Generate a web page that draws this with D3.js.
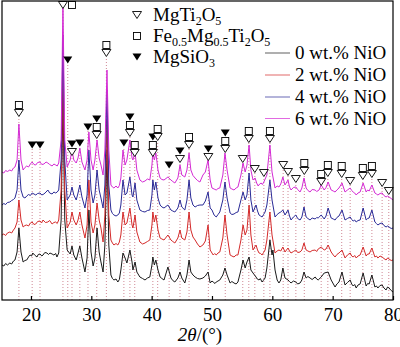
<!DOCTYPE html>
<html>
<head>
<meta charset="utf-8">
<script src="https://cdn.jsdelivr.net/npm/d3@7/dist/d3.min.js"></script>
<style>
body { margin: 0; background: #fff; }
svg text { font-family: "Liberation Serif", "Times New Roman", serif; fill: #000; }
</style>
</head>
<body>
<div id="chart"></div>
<script>

// XRD patterns, [2theta, intensity] (a.u., before stacking offset)
var nio0 = [[15.2,350],[15.5,340],[15.8,365],[16.1,350],[16.5,370],[16.8,360],[17.1,390],[17.35,400],[17.7,480],[18.0,720],[18.35,480],[18.7,380],[19.0,395],[19.3,400],[19.6,430],[19.85,450],[20.1,440],[20.3,470],[20.6,450],[21.0,430],[21.2,455],[21.5,460],[21.8,440],[22.0,450],[22.3,475],[22.65,470],[22.9,455],[23.15,470],[23.5,460],[23.8,450],[24.1,465],[24.3,430],[24.6,470],[25.0,800],[25.3,2000],[25.6,800],[26.0,500],[26.5,460],[26.8,540],[27.1,450],[27.5,400],[27.8,470],[28.1,540],[28.45,420],[28.95,280],[29.3,420],[29.6,900],[29.95,480],[30.3,340],[30.6,420],[30.95,720],[31.3,480],[31.6,380],[31.95,280],[32.25,550],[32.6,1500],[32.9,550],[33.25,250],[33.5,215],[33.75,200],[34.1,210],[34.4,180],[34.65,205],[34.9,300],[35.25,470],[35.6,420],[35.9,370],[36.4,500],[36.75,380],[36.9,300],[37.25,380],[37.55,280],[38.05,230],[38.5,215],[38.9,200],[39.3,220],[39.7,230],[40.05,350],[40.2,430],[40.45,350],[40.7,400],[41.05,300],[41.4,230],[41.7,215],[42.05,200],[42.7,330],[43.2,220],[43.5,195],[43.85,180],[44.35,220],[44.7,280],[45.0,220],[45.5,170],[45.85,250],[46.2,400],[46.5,280],[46.85,250],[47.2,230],[47.6,215],[48.0,210],[48.5,220],[48.9,240],[49.35,280],[49.7,170],[50.0,190],[50.2,180],[50.5,165],[50.7,180],[51.0,190],[51.3,200],[51.8,250],[52.15,320],[52.5,250],[53.0,170],[53.3,185],[53.65,170],[54.0,160],[54.3,180],[54.8,300],[55.15,400],[55.5,320],[55.8,380],[56.15,430],[56.45,300],[56.8,270],[57.3,230],[57.5,210],[57.8,200],[58.0,215],[58.3,180],[58.5,195],[58.8,220],[59.1,320],[59.6,600],[59.95,450],[60.1,500],[60.45,300],[60.8,200],[61.1,170],[61.4,200],[61.75,320],[62.1,220],[62.6,200],[62.85,185],[63.1,170],[63.5,190],[63.9,180],[64.2,160],[64.6,170],[64.9,200],[65.25,280],[65.6,220],[65.9,235],[66.25,220],[66.6,205],[67.1,230],[67.35,210],[67.6,200],[68.1,230],[68.6,270],[69.25,280],[69.75,200],[70.4,130],[70.7,160],[71.05,180],[71.55,280],[72.05,150],[72.45,175],[72.9,200],[73.15,160],[73.4,140],[73.65,155],[73.9,120],[74.2,150],[74.55,160],[75.05,270],[75.55,140],[75.8,165],[76.05,160],[76.5,250],[77.0,130],[77.25,140],[77.5,120],[77.85,145],[78.2,150],[78.5,120],[78.85,100],[79.1,130],[79.35,120],[79.7,95],[80.0,80]];

var nio2 = [[15.2,350],[15.5,360],[15.8,345],[16.1,370],[16.5,380],[16.8,370],[17.1,400],[17.35,420],[17.7,480],[18.0,700],[18.35,500],[18.7,430],[19.0,445],[19.3,450],[19.6,440],[19.9,470],[20.2,480],[20.5,455],[20.8,460],[21.1,485],[21.5,490],[21.75,470],[22.0,500],[22.4,475],[22.8,480],[23.1,495],[23.5,460],[23.8,475],[24.1,480],[24.35,465],[24.6,500],[25.0,800],[25.3,2000],[25.6,800],[26.0,420],[26.5,480],[26.8,580],[27.1,500],[27.5,450],[27.8,500],[28.1,580],[28.45,450],[28.95,320],[29.3,450],[29.6,900],[29.95,480],[30.3,370],[30.6,450],[30.95,670],[31.3,500],[31.6,420],[31.95,280],[32.25,550],[32.6,1500],[32.9,550],[33.25,300],[33.5,270],[33.75,250],[34.1,265],[34.4,250],[34.65,280],[34.9,350],[35.25,580],[35.6,450],[35.9,470],[36.4,620],[36.75,450],[36.9,420],[37.25,550],[37.55,380],[38.05,280],[38.5,260],[38.9,270],[39.3,285],[39.7,300],[40.05,450],[40.2,580],[40.45,480],[40.7,550],[41.05,400],[41.4,320],[41.7,310],[42.05,300],[42.7,350],[43.2,300],[43.5,285],[43.85,270],[44.35,320],[44.7,400],[45.0,320],[45.5,300],[45.85,380],[46.2,580],[46.5,400],[46.85,330],[47.2,300],[47.6,260],[48.0,230],[48.5,250],[48.9,290],[49.35,450],[49.7,200],[50.0,170],[50.2,150],[50.45,165],[50.7,150],[51.0,170],[51.3,180],[51.8,320],[52.15,550],[52.5,350],[53.0,150],[53.3,140],[53.65,130],[54.0,150],[54.3,150],[54.8,300],[55.15,450],[55.5,350],[55.8,400],[56.15,650],[56.45,350],[56.8,200],[57.3,250],[57.55,200],[57.8,170],[58.05,165],[58.3,150],[58.55,175],[58.8,200],[59.1,300],[59.6,580],[59.95,350],[60.45,170],[60.8,190],[61.1,200],[61.4,190],[61.75,230],[62.1,180],[62.6,220],[62.85,190],[63.1,170],[63.5,185],[63.9,200],[64.2,175],[64.6,180],[64.9,200],[65.25,270],[65.6,200],[65.9,190],[66.25,180],[66.6,195],[67.1,200],[67.35,185],[67.6,210],[68.1,230],[68.6,200],[68.9,210],[69.25,250],[69.75,180],[70.1,150],[70.4,130],[70.7,155],[71.05,170],[71.55,200],[72.05,120],[72.45,150],[72.9,170],[73.15,140],[73.4,130],[73.65,145],[73.9,120],[74.2,140],[74.55,150],[75.05,230],[75.55,140],[75.8,160],[76.05,160],[76.5,220],[77.0,130],[77.25,140],[77.5,120],[77.85,140],[78.2,130],[78.5,115],[78.85,100],[79.1,120],[79.35,110],[79.7,95],[80.0,100]];

var nio4 = [[15.2,350],[15.5,365],[15.8,355],[16.1,375],[16.5,380],[16.8,395],[17.1,405],[17.35,420],[17.7,500],[18.0,800],[18.35,500],[18.7,430],[19.0,420],[19.3,440],[19.6,455],[19.9,445],[20.2,470],[20.5,460],[20.8,450],[21.1,465],[21.5,470],[21.8,450],[22.15,460],[22.5,480],[22.8,500],[23.1,470],[23.5,460],[23.8,480],[24.1,470],[24.35,480],[24.6,500],[25.0,800],[25.3,2050],[25.6,800],[26.0,400],[26.5,450],[26.8,530],[27.1,450],[27.5,400],[27.8,470],[28.1,550],[28.45,430],[28.95,320],[29.3,450],[29.6,900],[29.95,500],[30.3,370],[30.6,450],[30.95,700],[31.3,500],[31.6,420],[31.95,320],[32.25,550],[32.6,1500],[32.9,550],[33.25,300],[33.5,265],[33.75,250],[34.1,240],[34.4,250],[34.65,270],[34.9,350],[35.25,600],[35.6,450],[35.9,470],[36.4,630],[36.75,450],[36.9,430],[37.25,570],[37.55,400],[38.05,300],[38.5,285],[38.9,280],[39.3,295],[39.7,300],[40.05,450],[40.2,600],[40.45,500],[40.7,580],[41.05,420],[41.4,350],[41.7,330],[42.05,320],[42.7,350],[43.2,300],[43.5,290],[43.85,280],[44.35,320],[44.7,400],[45.0,330],[45.5,300],[45.85,400],[46.2,600],[46.5,420],[46.85,350],[47.2,330],[47.6,345],[48.0,350],[48.5,350],[48.9,390],[49.35,480],[49.7,320],[50.0,300],[50.35,250],[50.7,230],[51.0,255],[51.3,280],[51.8,400],[52.15,580],[52.5,420],[53.0,270],[53.3,255],[53.65,260],[54.0,275],[54.3,280],[54.8,400],[55.15,480],[55.5,400],[55.8,450],[56.15,670],[56.45,400],[56.8,280],[57.3,350],[57.55,290],[57.8,250],[58.05,240],[58.3,230],[58.55,255],[58.8,280],[59.1,350],[59.6,600],[59.95,400],[60.45,230],[60.8,255],[61.1,270],[61.4,280],[61.75,300],[62.1,250],[62.6,300],[62.85,240],[63.1,200],[63.5,230],[63.9,250],[64.2,215],[64.6,200],[64.9,230],[65.25,330],[65.6,230],[65.9,215],[66.25,200],[66.6,220],[67.1,210],[67.35,225],[67.6,220],[68.1,250],[68.6,210],[68.9,240],[69.25,320],[69.75,220],[70.1,210],[70.4,200],[70.7,225],[71.05,240],[71.55,300],[72.05,200],[72.45,215],[72.9,230],[73.15,205],[73.4,190],[73.65,200],[73.9,180],[74.2,195],[74.55,200],[75.05,320],[75.55,200],[75.8,215],[76.05,220],[76.5,300],[77.0,180],[77.25,165],[77.5,150],[77.85,165],[78.2,170],[78.5,145],[78.85,130],[79.1,140],[79.35,130],[79.7,115],[80.0,120]];

var nio6 = [[15.2,380],[15.5,370],[15.8,395],[16.1,385],[16.5,400],[16.8,390],[17.1,420],[17.35,430],[17.7,500],[18.0,860],[18.35,500],[18.7,400],[19.0,425],[19.3,440],[19.6,430],[19.9,460],[20.2,480],[20.5,455],[20.8,450],[21.1,475],[21.5,480],[21.8,455],[22.15,460],[22.5,480],[22.8,470],[23.1,455],[23.5,440],[23.8,460],[24.1,450],[24.35,440],[24.6,470],[25.0,700],[25.3,2080],[25.6,700],[26.0,430],[26.5,500],[26.8,600],[27.1,500],[27.5,470],[27.8,520],[28.1,620],[28.45,480],[28.95,400],[29.3,500],[29.6,780],[29.95,500],[30.3,400],[30.6,500],[30.95,700],[31.3,520],[31.6,450],[31.95,350],[32.25,600],[32.6,1400],[32.9,600],[33.25,250],[33.5,230],[33.75,220],[34.1,240],[34.4,220],[34.65,245],[34.9,320],[35.25,600],[35.6,450],[35.9,500],[36.4,700],[36.75,520],[36.9,500],[37.25,580],[37.55,400],[38.05,300],[38.5,280],[38.9,290],[39.3,310],[39.7,300],[40.05,450],[40.2,580],[40.45,500],[40.7,570],[41.05,400],[41.4,320],[41.7,305],[42.05,300],[42.7,330],[43.2,300],[43.5,285],[43.85,270],[44.35,320],[44.7,450],[45.0,350],[45.5,330],[45.85,400],[46.2,570],[46.5,400],[46.85,345],[47.2,320],[47.6,295],[48.0,280],[48.5,350],[48.9,380],[49.35,500],[49.7,300],[50.0,220],[50.35,210],[50.7,200],[51.0,215],[51.3,220],[51.8,350],[52.15,570],[52.5,400],[53.0,220],[53.3,210],[53.65,200],[54.0,220],[54.3,230],[54.8,350],[55.15,470],[55.5,380],[55.8,450],[56.15,650],[56.45,400],[56.8,300],[57.15,320],[57.4,270],[57.65,240],[57.9,260],[58.15,270],[58.35,255],[58.6,280],[59.1,350],[59.6,650],[59.95,380],[60.45,220],[60.8,240],[61.1,230],[61.4,260],[61.75,330],[62.1,250],[62.6,300],[62.85,230],[63.1,200],[63.5,225],[63.9,230],[64.2,205],[64.6,180],[64.9,220],[65.25,320],[65.6,220],[65.9,195],[66.25,180],[66.6,205],[67.1,200],[67.35,185],[67.75,200],[68.1,250],[68.6,200],[68.9,225],[69.25,280],[69.75,200],[70.1,190],[70.4,180],[70.7,200],[71.05,220],[71.55,270],[72.05,180],[72.45,200],[72.9,220],[73.15,195],[73.4,180],[73.65,170],[73.9,150],[74.2,170],[74.55,180],[75.05,270],[75.55,180],[75.8,200],[76.05,190],[76.5,250],[77.0,170],[77.25,160],[77.5,150],[77.85,165],[78.2,170],[78.5,145],[78.85,130],[79.1,140],[79.35,130],[79.7,115],[80.0,100]];

var seriesNames = ['0 wt.% NiO', '2 wt.% NiO', '4 wt.% NiO', '6 wt.% NiO'];
var seriesData = [nio0, nio2, nio4, nio6];
var offsets = [0, 300, 600, 900];
var colors = ['#1a1a1a', '#d42a2a', '#2a2a96', '#d42ad4'];

// reference peaks: position, phases from bottom up (t = MgTi2O5, q = Fe0.5Mg0.5Ti2O5, f = MgSiO3), marker level
var refPos = [18.0, 20.2, 21.5, 25.3, 26.1, 26.8, 28.1, 29.45, 30.9, 32.5, 35.4, 36.4, 37.2, 40.2, 41.0, 42.9, 44.7, 46.2, 49.4, 52.2, 55.1, 56.1, 57.1, 58.6, 59.6, 61.8, 62.6, 63.9, 65.3, 68.1, 69.2, 71.5, 72.9, 75.0, 76.5, 78.2, 79.3];
var refPhases = ['tq', 'f', 'f', 't+q', 'f', 'tf', 'f', 'f', 'tqf', 'tq', 'f', 'tqf', 'tq', 'tqf', 'tq', 'f', 'tf', 'tq', 'tf', 'tqf', 't', 'tq', 't', 't', 'tq', 't', 't', 't', 'tq', 'tq', 'tq', 'tq', 't', 'tq', 'tq', 't', 't'];
var refLevel = [1870, 1550, 1550, 2950, 2400, 1480, 1570, 1730, 1650, 2470, 1570, 1670, 1470, 1470, 1630, 1350, 1410, 1550, 1430, 1510, 1410, 1610, 1310, 1270, 1610, 1350, 1280, 1210, 1290, 1180, 1270, 1260, 1190, 1240, 1260, 1170, 1090];

var phaseKeys = ['t', 'q', 'f'];
var phaseNames = [
	[['MgTi', ''], ['2', 'sub'], ['O', ''], ['5', 'sub']],
	[['Fe', ''], ['0.5', 'sub'], ['Mg', ''], ['0.5', 'sub'], ['Ti', ''], ['2', 'sub'], ['O', ''], ['5', 'sub']],
	[['MgSiO', ''], ['3', 'sub']]
];

var xTicks = [20, 30, 40, 50, 60, 70, 80];

var width = 400, height = 347;
var plot = { left: 2, top: 1, right: 393, bottom: 300 };
var serif = '"Liberation Serif", "Times New Roman", serif';

var svg = d3.select('#chart').append('svg').attr('width', width).attr('height', height);

var x = d3.scaleLinear().domain([15.2, 80]).range([plot.left, plot.right]);
var y = d3.scaleLinear().domain([0, 3000]).range([plot.bottom, plot.bottom - 300]);

svg.append('clipPath').attr('id', 'clip').append('rect')
	.attr('x', plot.left).attr('y', plot.top)
	.attr('width', plot.right - plot.left).attr('height', plot.bottom - plot.top);

var g = svg.append('g').attr('clip-path', 'url(#clip)');

// dotted drop lines under every reference peak
g.selectAll('line.ref')
	.data(refPos)
	.enter().append('line')
	.attr('class', 'ref')
	.attr('x1', function(d) { return x(d); })
	.attr('x2', function(d) { return x(d); })
	.attr('y1', plot.bottom)
	.attr('y2', function(d, i) { return y(refLevel[i]) + 4; })
	.style('stroke', '#c46a7a')
	.style('stroke-width', 0.8)
	.style('stroke-dasharray', '1,2');

var line = d3.line();

seriesData.forEach(function(data, i) {
	line.x(function(d) { return x(d[0]); }).y(function(d) { return y(d[1] + offsets[i]); });
	g.append('path')
		.datum(data)
		.attr('d', line)
		.style('fill', 'none')
		.style('stroke', colors[i])
		.style('stroke-width', 1)
		.style('stroke-linejoin', 'round');
});

function marker(sel, key, cx, cy) {
	if (key === 'q')
		sel.append('rect').attr('x', cx - 3.5).attr('y', cy - 3.5).attr('width', 7).attr('height', 7)
			.style('fill', '#fff').style('stroke', '#000').style('stroke-width', 0.9);
	else
		sel.append('path').attr('d', 'M' + (cx - 4.5) + ',' + (cy - 3.5) + 'L' + (cx + 4.5) + ',' + (cy - 3.5) + 'L' + cx + ',' + (cy + 3.5) + 'Z')
			.style('fill', key === 'f' ? '#000' : '#fff')
			.style('stroke', '#000').style('stroke-width', key === 'f' ? 0 : 0.9);
}

var marks = svg.append('g');
refPos.forEach(function(pos, i) {
	var code = refPhases[i];
	var cx = x(pos);
	var cy = y(refLevel[i]);
	if (code.indexOf('+') !== -1) {
		var parts = code.split('+');
		marker(marks, parts[0], cx, cy);
		marker(marks, parts[1], cx + 9, cy);
		return;
	}
	for (var k = 0; k < code.length; k++)
		marker(marks, code[k], cx, cy - k * 8);
});

// frame and bottom axis
svg.append('rect')
	.attr('x', plot.left).attr('y', plot.top)
	.attr('width', plot.right - plot.left).attr('height', plot.bottom - plot.top)
	.style('fill', 'none').style('stroke', '#000').style('stroke-width', 1.2);

var axis = svg.append('g').attr('transform', 'translate(0,' + plot.bottom + ')')
	.call(d3.axisBottom(x).tickValues(xTicks).tickSizeInner(-4).tickSizeOuter(0).tickPadding(8));
axis.attr('font-family', serif).attr('font-size', 19);
axis.select('.domain').remove();
axis.selectAll('line').style('stroke', '#000').style('stroke-width', 1.2);
axis.selectAll('text').style('font-family', serif).style('font-size', '19px');

var title = svg.append('text').attr('x', 200).attr('y', 341).attr('text-anchor', 'middle').style('font-size', '19px');
title.append('tspan').style('font-style', 'italic').text('2θ');
title.append('tspan').text('/(°)');

// phase legend
var phaseY = [15, 36, 57];
phaseNames.forEach(function(parts, i) {
	marker(svg, phaseKeys[i], 137, phaseY[i]);
	var t = svg.append('text').attr('x', 153).attr('y', phaseY[i] + 6).style('font-size', '19px');
	parts.forEach(function(p, j) {
		var s = t.append('tspan').text(p[0]);
		if (p[1] === 'sub')
			s.style('font-size', '12px').attr('dy', 4);
		else if (j > 0)
			s.attr('dy', -4);
	});
});

// series legend
var legY = [53, 75, 97, 118.5];
seriesNames.forEach(function(name, i) {
	svg.append('line').attr('x1', 265).attr('x2', 290).attr('y1', legY[i]).attr('y2', legY[i])
		.style('stroke', colors[i]).style('stroke-width', 0.7);
	svg.append('text').attr('x', 295).attr('y', legY[i] + 6).style('font-size', '19px').text(name);
});

</script>
</body>
</html>
